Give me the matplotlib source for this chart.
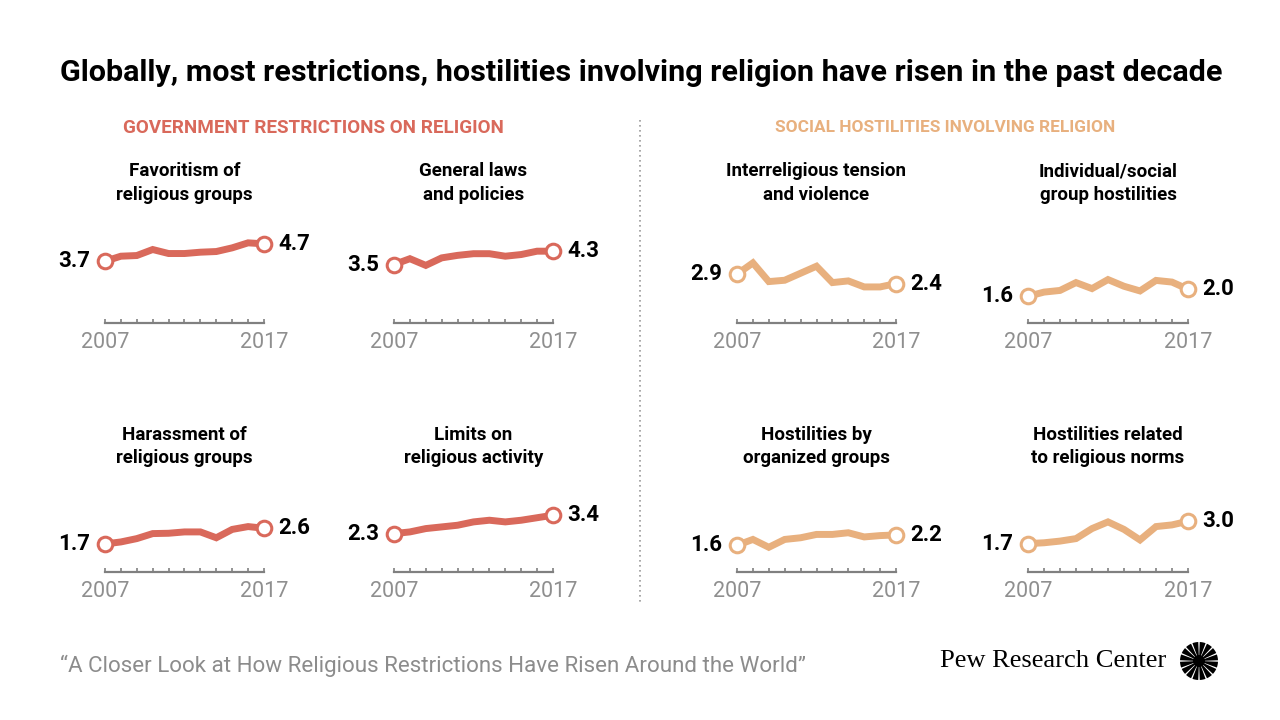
import matplotlib
matplotlib.use("Agg")
import matplotlib.pyplot as plt
from matplotlib.lines import Line2D
from matplotlib.patches import Wedge, Circle

# ---------------- data ----------------
years = list(range(2007, 2018))

favoritism = [3.7, 4.0, 4.04, 4.4, 4.16, 4.16, 4.24, 4.28, 4.5, 4.8, 4.74]
general_laws = [3.5, 3.85, 3.45, 3.9, 4.05, 4.15, 4.15, 4.0, 4.1, 4.3, 4.3]
harassment = [1.68, 1.8, 2.0, 2.3, 2.32, 2.4, 2.4, 2.05, 2.55, 2.72, 2.62]
limits = [2.3, 2.4, 2.6, 2.7, 2.8, 3.0, 3.1, 3.0, 3.1, 3.25, 3.4]

interreligious = [2.92, 3.6, 2.48, 2.56, 2.98, 3.4, 2.42, 2.52, 2.16, 2.16, 2.36]
individual = [1.6, 1.85, 1.95, 2.42, 2.06, 2.6, 2.2, 1.92, 2.55, 2.45, 2.02]
organized = [1.6, 1.95, 1.48, 1.95, 2.05, 2.25, 2.25, 2.35, 2.1, 2.18, 2.22]
norms = [1.7, 1.75, 1.85, 2.0, 2.6, 3.0, 2.55, 1.92, 2.72, 2.82, 3.04]

panel_titles = [
    "Favoritism of\nreligious groups",
    "General laws\nand policies",
    "Interreligious tension\nand violence",
    "Individual/social\ngroup hostilities",
    "Harassment of\nreligious groups",
    "Limits on\nreligious activity",
    "Hostilities by\norganized groups",
    "Hostilities related\nto religious norms",
]
panel_values = [favoritism, general_laws, interreligious, individual,
                harassment, limits, organized, norms]
panel_group = ["gov", "gov", "soc", "soc", "gov", "gov", "soc", "soc"]

title = "Globally, most restrictions, hostilities involving religion have risen in the past decade"
gov_header = "GOVERNMENT RESTRICTIONS ON RELIGION"
soc_header = "SOCIAL HOSTILITIES INVOLVING RELIGION"
source = "\u201cA Closer Look at How Religious Restrictions Have Risen Around the World\u201d"
brand = "Pew Research Center"

# ---------------- style ----------------
W, H = 1280, 720
SANS = "Roboto"
COLORS = {"gov": "#d9695b", "soc": "#e8b07e"}
AXIS_GRAY = "#808080"
YEAR_GRAY = "#8f8f8f"

cols_x = [(105, 264), (394, 553), (737, 896), (1028, 1188)]
baseline_y = [323, 572]
title_lines_y = [(171, 195), (435, 458)]
PX_PER_UNIT = 16.7
AX_H = 100

fig = plt.figure(figsize=(12.8, 7.2), dpi=100)
fig.patch.set_facecolor("white")


def fx(x):
    return x / W


def fy(y):
    return 1 - y / H


renderer = fig.canvas.get_renderer()


def fit(t, target_px):
    w = t.get_window_extent(renderer).width
    t.set_fontsize(t.get_fontsize() * target_px / w)


# title
t = fig.text(fx(60), fy(73), title, fontsize=20, fontweight="bold",
             family=SANS, va="center", ha="left", color="black")
fit(t, 1157)

# section headers
gh = fig.text(fx(313), fy(128), gov_header, fontsize=12, fontweight="bold",
              family=SANS, va="center", ha="center", color=COLORS["gov"])
fit(gh, 381)
sh = fig.text(fx(945), fy(128), soc_header, fontsize=12, fontweight="bold",
              family=SANS, va="center", ha="center", color=COLORS["soc"])
fit(sh, 340)

# divider
fig.add_artist(Line2D([fx(640), fx(640)], [fy(120), fy(602)],
                      transform=fig.transFigure, color="#9a9a9a", lw=1.2,
                      linestyle=(0, (1, 2))))

# panels
for i, (ptitle, vals, grp) in enumerate(zip(panel_titles, panel_values, panel_group)):
    row, col = divmod(i, 4)
    x0, x1 = cols_x[col]
    B = baseline_y[row]
    color = COLORS[grp]
    ax = fig.add_axes([fx(x0), fy(B), (x1 - x0) / W, AX_H / H])
    ax.set_xlim(2007, 2017)
    ax.set_ylim(0, AX_H / PX_PER_UNIT)
    ax.patch.set_alpha(0)
    for s in ["top", "left", "right"]:
        ax.spines[s].set_visible(False)
    ax.spines["bottom"].set_color(AXIS_GRAY)
    ax.spines["bottom"].set_linewidth(1.6)
    ax.set_yticks([])
    ax.set_xticks(years)
    ax.set_xticklabels([str(y) if y in (years[0], years[-1]) else "" for y in years])
    ax.tick_params(axis="x", direction="in", length=3.2, width=1.2, color=AXIS_GRAY,
                   labelsize=15.5, labelcolor=YEAR_GRAY, pad=6.5)
    for lab in ax.get_xticklabels():
        lab.set_family(SANS)

    ax.plot(years, vals, color=color, lw=5.0, solid_joinstyle="miter",
            solid_capstyle="butt", clip_on=False, zorder=2)
    ax.plot([years[0], years[-1]], [vals[0], vals[-1]], linestyle="none",
            marker="o", ms=10.5, mfc="white", mec=color, mew=2.2,
            clip_on=False, zorder=3)
    ax.annotate(f"{vals[0]:.1f}", (years[0], vals[0]), xytext=(-10.5, 0),
                textcoords="offset points", ha="right", va="center",
                fontsize=16, fontweight="bold", family=SANS, color="black")
    ax.annotate(f"{vals[-1]:.1f}", (years[-1], vals[-1]), xytext=(10, 0),
                textcoords="offset points", ha="left", va="center",
                fontsize=16, fontweight="bold", family=SANS, color="black")

    cx = (x0 + x1) / 2
    for line, ly in zip(ptitle.split("\n"), title_lines_y[row]):
        fig.text(fx(cx), fy(ly), line, ha="center", va="center", fontsize=13.5,
                 fontweight="bold", family=SANS, color="black")

# footer
src = fig.text(fx(60), fy(666), source, fontsize=14, family=SANS,
               color="#8c8c8c", va="center", ha="left")
fit(src, 752)
br = fig.text(fx(940), fy(661), brand, fontsize=18, family="Liberation Serif",
              color="black", va="center", ha="left")
fit(br, 227)

# logo
lax = fig.add_axes([fx(1180), fy(680), 38 / W, 38 / H])
lax.set_xlim(-1, 1)
lax.set_ylim(-1, 1)
lax.set_aspect("equal")
lax.axis("off")
n_rays = 16
for k in range(n_rays):
    c = k * 360 / n_rays + 360 / n_rays / 2
    lax.add_patch(Wedge((0, 0), 1.0, c - 9, c + 9, width=0.8, color="black", lw=0))
lax.add_patch(Circle((0, 0), 0.32, color="black", lw=0))

fig.savefig("out.png", dpi=100, facecolor="white")
